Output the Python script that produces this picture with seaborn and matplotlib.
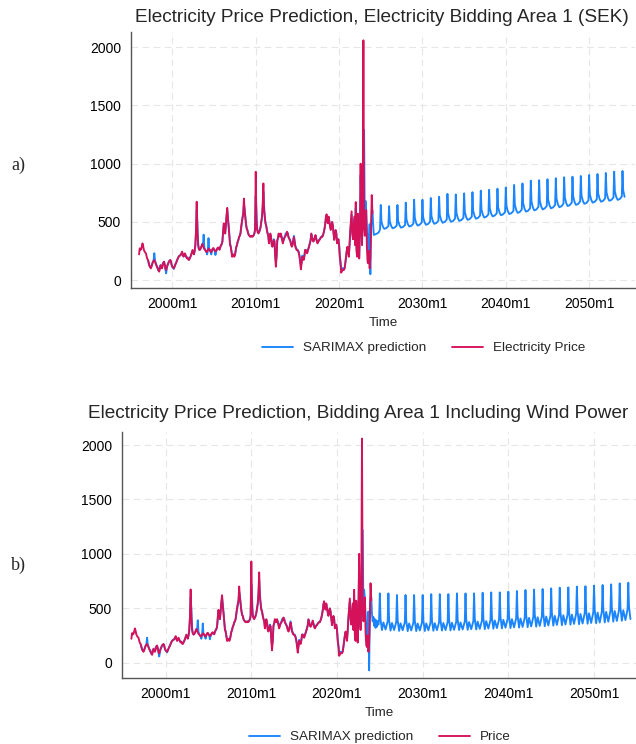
import numpy as np
import pandas as pd
import matplotlib
matplotlib.use("Agg")
import matplotlib.pyplot as plt
import seaborn as sns

# monthly electricity price, 1996m1 .. 2024m1
price = [
    220, 272, 260, 264, 290, 315, 290, 258, 245, 235, 229, 200,   # 1996
    180, 172, 150, 120, 110, 100, 115, 138, 155, 165, 172, 155,   # 1997
    140, 125, 110, 100, 85, 72, 95, 129, 115, 100, 120, 150,      # 1998
    158, 130, 100, 86, 110, 129, 140, 158, 165, 172, 160, 130,    # 1999
    115, 108, 100, 115, 130, 143, 155, 172, 185, 200, 205, 210,   # 2000
    215, 230, 244, 225, 200, 210, 229, 215, 200, 186, 190, 175,   # 2001
    172, 185, 200, 215, 235, 258, 240, 220, 250, 300, 420, 673,   # 2002
    420, 300, 270, 258, 262, 275, 290, 310, 295, 280, 265, 260,   # 2003
    250, 240, 245, 255, 270, 265, 260, 245, 240, 255, 270, 275,   # 2004
    262, 255, 245, 250, 265, 275, 280, 270, 260, 285, 300, 310,   # 2005
    330, 420, 486, 430, 400, 480, 560, 620, 520, 458, 380, 300,   # 2006
    286, 240, 200, 210, 220, 200, 210, 250, 286, 300, 330, 343,   # 2007
    372, 380, 400, 458, 500, 540, 572, 700, 600, 543, 480, 440,   # 2008
    429, 400, 386, 380, 372, 372, 380, 372, 375, 385, 400, 430,   # 2009
    930, 520, 429, 410, 400, 415, 430, 458, 500, 543, 640, 830,   # 2010
    600, 540, 486, 470, 429, 400, 380, 315, 350, 400, 370, 300,   # 2011
    286, 310, 343, 330, 200, 114, 200, 343, 360, 400, 390, 372,   # 2012
    400, 370, 343, 315, 340, 360, 372, 380, 390, 415, 400, 370,   # 2013
    358, 343, 330, 300, 286, 300, 340, 370, 330, 286, 270, 257,   # 2014
    257, 250, 230, 200, 150, 92, 140, 200, 190, 172, 200, 258,    # 2015
    258, 240, 229, 250, 270, 290, 315, 340, 400, 370, 344, 330,   # 2016
    344, 360, 387, 360, 330, 315, 329, 340, 345, 358, 365, 372,   # 2017
    372, 390, 410, 440, 480, 540, 565, 500, 487, 545, 500, 460,   # 2018
    430, 470, 500, 470, 400, 344, 380, 430, 400, 315, 330, 350,   # 2019
    300, 200, 143, 63, 75, 86, 90, 86, 100, 143, 200, 250,        # 2020
    286, 250, 200, 300, 420, 500, 590, 400, 350, 450, 545, 300,   # 2021
    670, 250, 200, 570, 300, 185, 450, 1000, 500, 300, 600, 2060, # 2022
    450, 380, 420, 600, 280, 158, 143, 250, 100, 180, 400, 730,   # 2023
    573,                                                          # 2024
]

# SARIMAX in-sample prediction, 1997m2 .. 2022m12 (same in both panels)
pred_hist = [
    165, 140, 125, 112, 108, 120, 140, 158, 170, 230, 165,        # 1997
    150, 130, 115, 95, 80, 90, 120, 120, 105, 115, 140, 150,      # 1998
    155, 135, 90, 57, 100, 125, 145, 160, 165, 170, 150, 125,     # 1999
    110, 105, 95, 110, 130, 145, 160, 175, 190, 200, 210, 212,    # 2000
    215, 225, 235, 215, 205, 215, 225, 210, 195, 190, 195, 180,   # 2001
    175, 185, 200, 215, 235, 250, 245, 225, 245, 290, 400, 600,   # 2002
    500, 330, 270, 260, 262, 275, 290, 305, 300, 390, 280, 265,   # 2003
    250, 245, 220, 250, 360, 260, 255, 240, 220, 250, 265, 270,   # 2004
    260, 250, 215, 245, 260, 270, 275, 265, 265, 280, 295, 305,   # 2005
    330, 400, 470, 440, 400, 460, 540, 600, 540, 470, 390, 320,   # 2006
    290, 250, 215, 210, 215, 210, 215, 245, 280, 300, 330, 345,   # 2007
    365, 380, 400, 440, 490, 530, 560, 650, 610, 545, 485, 445,   # 2008
    430, 405, 390, 380, 375, 375, 380, 375, 378, 385, 400, 430,   # 2009
    720, 600, 450, 420, 405, 415, 430, 455, 495, 540, 620, 760,   # 2010
    640, 550, 495, 470, 435, 405, 385, 330, 345, 390, 375, 310,   # 2011
    290, 320, 350, 335, 230, 160, 200, 335, 360, 395, 390, 375,   # 2012
    395, 380, 360, 330, 340, 360, 372, 400, 395, 410, 405, 375,   # 2013
    360, 350, 335, 310, 295, 305, 340, 380, 340, 295, 280, 265,   # 2014
    260, 255, 240, 210, 170, 130, 150, 210, 200, 185, 205, 255,   # 2015
    260, 250, 240, 255, 275, 295, 320, 345, 395, 375, 350, 335,   # 2016
    345, 360, 380, 360, 335, 320, 330, 345, 350, 360, 370, 375,   # 2017
    375, 390, 410, 440, 480, 530, 555, 510, 495, 535, 505, 465,   # 2018
    440, 465, 495, 470, 410, 360, 385, 425, 405, 330, 335, 350,   # 2019
    310, 215, 160, 110, 95, 100, 100, 95, 105, 150, 200, 250,     # 2020
    280, 260, 215, 290, 400, 480, 560, 420, 360, 440, 530, 330,   # 2021
    620, 300, 230, 540, 320, 210, 440, 900, 540, 320, 580, 900,   # 2022
]

# prediction 2023m1 .. 2024m12, panel a and panel b
pred_tail_a = [
    1290, 500, 680, 600, 450, 300, 250, 350, 480, 50, 450, 600,
    600, 480, 387, 390, 392, 395, 398, 400, 405, 410, 420, 440,
]
pred_tail_b = [
    1220, 480, 670, 590, 440, 300, 240, 340, 470, -70, 440, 600,
    600, 449, 380, 420, 340, 400, 320, 390, 330, 380, 350, 400,
]

# out-of-sample forecast, read at months 1, 2, 4, 6, 9, 12 of each year 2025..2054
fc_months = [1, 2, 4, 6, 9, 12]
fc_a = [
    [645, 500, 460, 440, 446, 465], [635, 502, 464, 445, 451, 468],
    [645, 509, 470, 450, 456, 473], [665, 521, 480, 460, 466, 485],
    [690, 535, 490, 468, 475, 495], [690, 540, 497, 475, 481, 501],
    [705, 550, 505, 483, 490, 510], [715, 559, 514, 492, 499, 519],
    [740, 572, 524, 500, 507, 529], [735, 576, 531, 508, 515, 535],
    [745, 585, 540, 517, 524, 544], [755, 595, 550, 527, 534, 554],
    [768, 606, 560, 537, 544, 565], [775, 615, 570, 547, 554, 574],
    [785, 625, 580, 557, 564, 584], [795, 635, 590, 567, 574, 594],
    [817, 649, 601, 577, 584, 606], [830, 661, 612, 588, 595, 617],
    [854, 675, 624, 598, 606, 629], [858, 682, 632, 607, 615, 637],
    [866, 691, 641, 616, 624, 646], [875, 701, 651, 626, 633, 656],
    [883, 710, 661, 636, 643, 666], [888, 719, 670, 646, 653, 675],
    [894, 727, 679, 655, 662, 684], [903, 736, 689, 665, 672, 694],
    [911, 744, 697, 673, 680, 702], [920, 753, 705, 681, 688, 710],
    [931, 762, 713, 689, 696, 718], [937, 770, 715],
]
fc_b = [
    [637, 395, 300, 370, 305, 380], [637, 390, 295, 365, 300, 375],
    [622, 388, 292, 362, 298, 372], [622, 385, 290, 360, 296, 370],
    [622, 385, 290, 360, 296, 370], [622, 386, 291, 361, 297, 371],
    [630, 388, 293, 363, 299, 373], [630, 390, 295, 365, 300, 375],
    [630, 392, 297, 367, 302, 377], [637, 395, 300, 370, 305, 380],
    [637, 398, 302, 373, 308, 383], [637, 402, 305, 377, 311, 387],
    [643, 407, 308, 382, 314, 392], [646, 413, 312, 388, 318, 398],
    [646, 419, 315, 394, 322, 404], [653, 425, 318, 400, 325, 410],
    [659, 431, 322, 406, 329, 416], [668, 437, 326, 412, 333, 422],
    [672, 443, 331, 418, 338, 428], [677, 449, 335, 424, 342, 434],
    [683, 455, 340, 430, 347, 440], [689, 461, 344, 436, 351, 446],
    [692, 467, 349, 442, 356, 452], [699, 473, 353, 448, 360, 458],
    [703, 479, 358, 454, 365, 464], [708, 485, 362, 460, 369, 470],
    [714, 492, 370, 467, 377, 477], [720, 500, 377, 475, 384, 485],
    [729, 507, 385, 482, 392, 492], [735, 515, 401],
]

x_ticks = [2000, 2010, 2020, 2030, 2040, 2050]
x_tick_labels = ["2000m1", "2010m1", "2020m1", "2030m1", "2040m1", "2050m1"]
y_ticks = [0, 500, 1000, 1500, 2000]

titles = ["Electricity Price Prediction, Electricity Bidding Area 1 (SEK)",
          "Electricity Price Prediction, Bidding Area 1 Including Wind Power"]
price_labels = ["Electricity Price", "Price"]

BLUE = "#1a85ff"
RED = "#d41159"


def monthly_x(year, month, n):
    dates = pd.date_range(f"{year}-{month:02d}-01", periods=n, freq="MS")
    return np.asarray(dates.year + (dates.month - 1) / 12.0)


def forecast_frame(rows, first_year=2025):
    xs, ys = [], []
    for i, row in enumerate(rows):
        for m, v in zip(fc_months, row):
            xs.append(first_year + i + (m - 1) / 12.0)
            ys.append(v)
    return xs, ys


sns.set_theme(style="white")
plt.rcParams["font.family"] = ["Liberation Sans", "DejaVu Sans"]

fig = plt.figure(figsize=(6.36, 7.44), dpi=100)
W, H = 636.0, 744.0

# axes boxes in pixels: left, top, right, bottom
boxes = [(130.7, 31.7, 635.0, 287.7), (121.7, 431.7, 636.0, 677.7)]
xlims = [(1995.0, 2055.5), (1994.87, 2054.9)]
ylims = [(-66, 2134), (-138, 2123)]
title_pos = [(382, 18), (358, 414)]
legend_pos = [(424, 348), (380, 737)]
panel_tags = [("a)", 165), ("b)", 565)]

price_df = pd.DataFrame({"x": monthly_x(1996, 1, len(price)), "y": price})

for k, tail in enumerate([pred_tail_a, pred_tail_b]):
    l, t, r, b = boxes[k]
    ax = fig.add_axes([l / W, 1 - b / H, (r - l) / W, (b - t) / H])

    fx, fy = forecast_frame([fc_a, fc_b][k])
    pred_x = list(monthly_x(1997, 2, len(pred_hist) + len(tail))) + fx
    pred_y = pred_hist + tail + fy
    pred_df = pd.DataFrame({"x": pred_x, "y": pred_y})

    sns.lineplot(data=pred_df, x="x", y="y", ax=ax, color=BLUE, lw=1.35,
                 label="SARIMAX prediction", estimator=None, sort=False)
    sns.lineplot(data=price_df, x="x", y="y", ax=ax, color=RED, lw=1.35,
                 label=price_labels[k], estimator=None, sort=False)

    ax.set_xlim(*xlims[k])
    ax.set_ylim(*ylims[k])
    ax.set_xticks(x_ticks)
    ax.set_xticklabels(x_tick_labels)
    ax.set_yticks(y_ticks)
    ax.grid(True, color="#e6e6e6", ls=(0, (6, 4)), lw=0.8)
    for s in ["top", "right"]:
        ax.spines[s].set_visible(False)
    for s in ["left", "bottom"]:
        ax.spines[s].set_color("#555555")
        ax.spines[s].set_linewidth(1.0)
    ax.tick_params(direction="out", length=4, width=0.9, color="#555555",
                   labelsize=10, pad=3, labelcolor="black")
    ax.set_xlabel("Time", fontsize=9.6, labelpad=4)
    ax.set_ylabel("")

    handles, labels = ax.get_legend_handles_labels()
    ax.legend(handles, labels, loc="center", ncol=2, frameon=False, fontsize=9.7,
              bbox_to_anchor=(legend_pos[k][0] / W, 1 - legend_pos[k][1] / H),
              bbox_transform=fig.transFigure, handlelength=2.3,
              handletextpad=0.75, columnspacing=1.9)

    fig.text(title_pos[k][0] / W, 1 - title_pos[k][1] / H, titles[k],
             ha="center", va="center", fontsize=13.7)
    fig.text(11 / W, 1 - panel_tags[k][1] / H, panel_tags[k][0],
             ha="left", va="center", fontsize=13, family="Liberation Serif")

fig.savefig("out.png", dpi=100)
plt.close(fig)
